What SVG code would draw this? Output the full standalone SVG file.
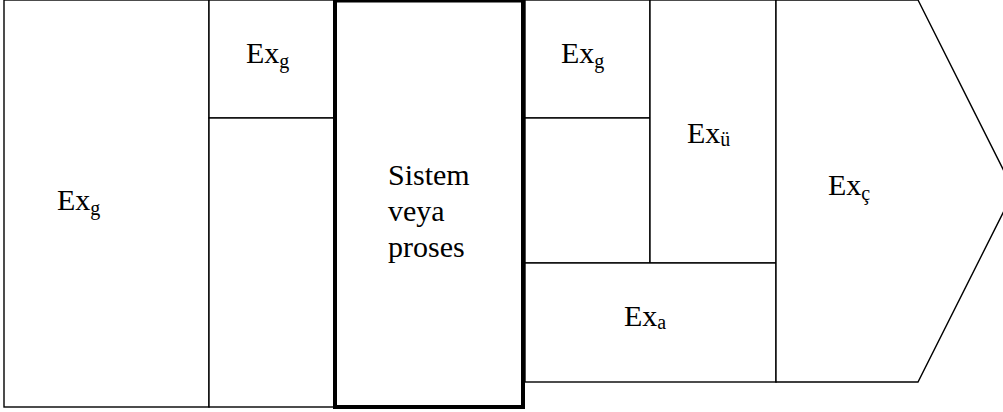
<svg xmlns="http://www.w3.org/2000/svg" width="1003" height="412" viewBox="0 0 1003 412" font-family="'Liberation Serif', 'Times New Roman', Tinos, 'DejaVu Serif', serif">
  <style>
    .cell { fill: #ffffff; stroke: #000000; stroke-width: 1.4; }
    .core { fill: #ffffff; stroke: #000000; stroke-width: 4; }
    text { font-family: 'Liberation Serif', 'Times New Roman', Tinos, 'DejaVu Serif', serif; font-size: 30px; fill: #000000; }
    .sub { font-size: 20px; }
  </style>
  <rect x="0" y="0" width="1003" height="412" fill="#ffffff"/>

  <!-- incoming exergy -->
  <g id="in-total">
    <rect class="cell" x="4" y="0" width="205" height="407"/>
    <text x="57" y="210">Ex<tspan class="sub" dy="5">g</tspan></text>
  </g>
  <g id="in-top">
    <rect class="cell" x="209" y="0" width="126" height="118"/>
    <text x="246" y="63">Ex<tspan class="sub" dy="5">g</tspan></text>
  </g>
  <g id="in-bottom">
    <rect class="cell" x="209" y="118" width="126" height="289"/>
  </g>

  <!-- system boundary -->
  <g id="system">
    <rect class="core" x="335" y="0.5" width="188" height="406.5"/>
    <text x="388">
      <tspan x="388" y="185">Sistem</tspan>
      <tspan x="388" y="221">veya</tspan>
      <tspan x="388" y="257">proses</tspan>
    </text>
  </g>

  <!-- outgoing exergy -->
  <g id="out-top">
    <rect class="cell" x="525" y="0" width="125" height="118"/>
    <text x="561" y="63">Ex<tspan class="sub" dy="5">g</tspan></text>
  </g>
  <g id="out-mid">
    <rect class="cell" x="525" y="118" width="125" height="145"/>
  </g>
  <g id="useful">
    <rect class="cell" x="650" y="0" width="126" height="263"/>
    <text x="687" y="143">Ex<tspan class="sub" dy="3">ü</tspan></text>
  </g>
  <g id="loss">
    <rect class="cell" x="525" y="263" width="251" height="119"/>
    <text x="624" y="326">Ex<tspan class="sub" dy="3">a</tspan></text>
  </g>
  <g id="output">
    <polygon class="cell" points="776,0 918,0 1014,191 918,382 776,382"/>
    <text x="828" y="195">Ex<tspan class="sub" dy="5">ç</tspan></text>
  </g>

  <g id="connectors"></g>
</svg>
